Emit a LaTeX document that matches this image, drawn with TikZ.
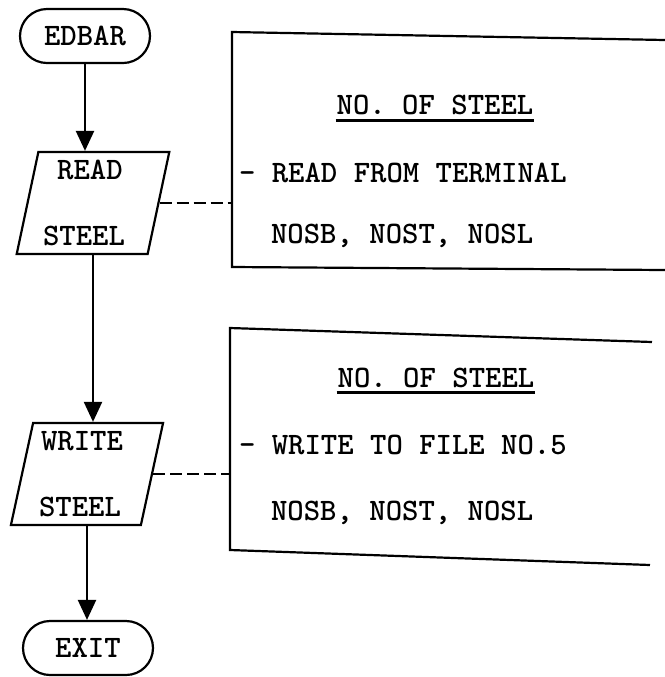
\documentclass[tikz,border=0pt]{standalone}
\usetikzlibrary{shapes.geometric,shapes.misc,arrows.meta}
\tikzset{
  term/.style={draw, rounded rectangle, minimum width=65pt, minimum height=27pt, inner sep=0pt},
  io/.style={draw, trapezium, trapezium left angle=77, trapezium right angle=103,
    trapezium stretches=true, minimum width=76.5pt, minimum height=51pt, inner sep=0pt, align=center},
  flow/.style={-{Triangle[width=9pt,length=10pt]}},
  link/.style={dash pattern=on 6pt off 2.5pt},
  note/.style={inner sep=0pt, anchor=base west},
  title/.style={inner sep=0pt, anchor=base},
}
\begin{document}
\begin{tikzpicture}[x=0.5pt,y=-0.5pt,line width=1.1pt,
    font=\ttfamily\bfseries\fontsize{15.6}{18}\selectfont]
  \useasboundingbox (0,0) rectangle (665,677);
  % flow chart
  \node[term] (edbar) at (85,36) {EDBAR};
  \node[io] (read) at (93,203) {READ\hspace*{3pt}\\[15pt]STEEL\hspace*{9pt}};
  \node[io] (write) at (87,474) {WRITE\hspace*{5pt}\\[15pt]STEEL\hspace*{7pt}};
  \node[term] (exit) at (88,648) {EXIT};
  \draw[flow] (edbar.south) -- (edbar.south |- read.north);
  \draw[flow] (read.south -| read.center) -- (read.center |- write.north);
  \draw[flow] (write.south -| write.center) -- (write.center |- exit.north);
  % box for read
  \coordinate (rd-nw) at (232,32);
  \coordinate (rd-sw) at (232,267);
  \draw (665,40) -- (rd-nw) -- (rd-sw) -- (665,270);
  \draw[link] (read.east) -- (read.east -| rd-nw);
  \node[title] (rd-title) at (435,114) {NO. OF STEEL};
  \draw[line width=1.6pt] ([yshift=-2.5pt]rd-title.south west) -- ([yshift=-2.5pt]rd-title.south east);
  \node[note] (rd-how) at (238,182) {- READ FROM TERMINAL};
  \node[note] (rd-vars) at (270,243) {NOSB, NOST, NOSL};
  % box for write
  \coordinate (wr-nw) at (230,328);
  \coordinate (wr-sw) at (230,550);
  \draw (652,342) -- (wr-nw) -- (wr-sw) -- (650,565);
  \draw[link] (write.east) -- (write.east -| wr-nw);
  \node[title] (wr-title) at (436,387) {NO. OF STEEL};
  \draw[line width=1.6pt] ([yshift=-2pt]wr-title.south west) -- ([yshift=-2pt]wr-title.south east);
  \node[note] (wr-how) at (238,454) {- WRITE TO FILE NO.5};
  \node[note] (wr-vars) at (270,520) {NOSB, NOST, NOSL};
\end{tikzpicture}
\end{document}
